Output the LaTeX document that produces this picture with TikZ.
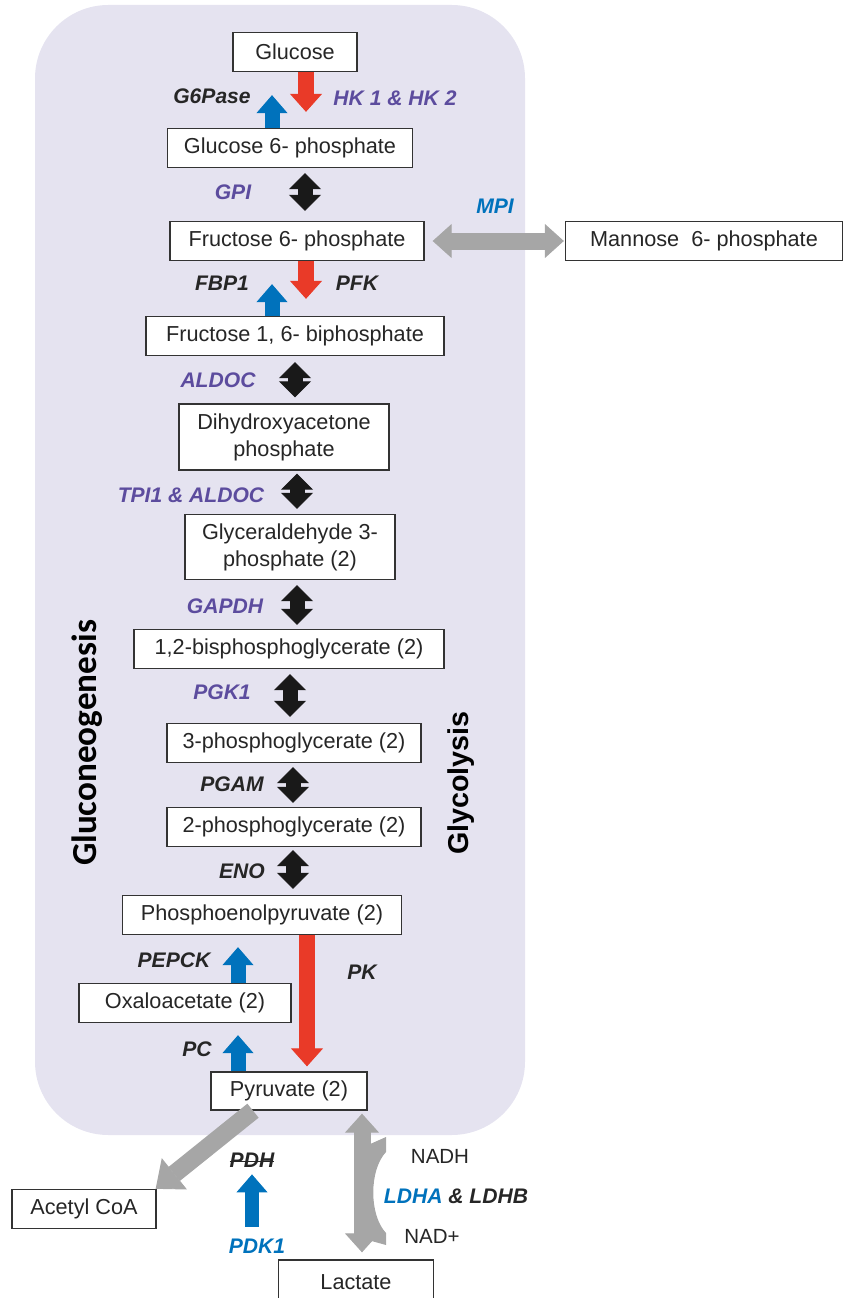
\documentclass[tikz,border=0pt]{standalone}
\usepackage{fontspec}
\setmainfont{Liberation Sans}
\newfontfamily\carlito{Carlito}
\usetikzlibrary{arrows.meta}
\definecolor{bgpath}{RGB}{229,227,240}
\definecolor{glyred}{RGB}{233,58,40}
\definecolor{gngblue}{RGB}{0,114,188}
\definecolor{enzpurple}{RGB}{92,76,158}
\definecolor{sidegray}{RGB}{166,166,166}
\newcommand{\struck}[1]{\setbox0\hbox{#1}\rlap{\raisebox{0.45ex}{\rule{\wd0}{0.7pt}}}\box0}

\begin{document}
\begin{tikzpicture}[x=0.3mm,y=-0.3mm,
  met/.style={draw=black!80,line width=0.4mm,fill=white,inner sep=0pt,minimum height=11.7mm,text=black!85,font=\fontsize{18.5}{23}\selectfont,align=center},
  enz/.style={text=black!85,font=\fontsize{18}{20}\selectfont\bfseries\itshape},
  cof/.style={text=black!85,font=\fontsize{17.5}{20}\selectfont},
  fwd/.style={draw=glyred,line width=4.8mm,-{Triangle[length=5.4mm,width=9.6mm,line width=0.8pt]}},
  rev/.style={draw=gngblue,line width=4.5mm,-{Triangle[length=5.4mm,width=9.3mm,line width=0.8pt]}},
  twoway/.style={draw=black!90,line width=4.5mm,{Triangle[length=4.8mm,width=9.6mm,line width=0.8pt]}-{Triangle[length=4.8mm,width=9.6mm,line width=0.8pt]}},
  grayway/.style={draw=sidegray,line width=5.1mm,{Triangle[length=5.7mm,width=10.2mm,line width=0.8pt]}-{Triangle[length=5.7mm,width=10.2mm,line width=0.8pt]}}]
\useasboundingbox (0,0) rectangle (844,1298);
\fill[bgpath,rounded corners=22mm] (35,5) rectangle (525,1135);

\node[met,minimum width=37.2mm] (glc) at (295,52) {Glucose};
\node[met,minimum width=73.5mm] (g6p) at (290,148) {Glucose 6- phosphate};
\node[met,minimum width=76.2mm] (f6p) at (297,241) {Fructose 6- phosphate};
\node[met,minimum width=83.1mm] (m6p) at (704,241) {Mannose\ \ 6- phosphate};
\node[met,minimum width=89.4mm] (f16bp) at (295,336) {Fructose 1, 6- biphosphate};
\node[met,minimum width=63mm,minimum height=19.8mm] (dhap) at (284,437) {Dihydroxyacetone\\phosphate};
\node[met,minimum width=63mm,minimum height=19.5mm] (g3p) at (290,547) {Glyceraldehyde 3-\\phosphate (2)};
\node[met,minimum width=93mm] (bpg) at (289,649) {1,2-bisphosphoglycerate (2)};
\node[met,minimum width=76.2mm] (pg3) at (294,743) {3-phosphoglycerate (2)};
\node[met,minimum width=76.2mm] (pg2) at (294,827) {2-phosphoglycerate (2)};
\node[met,minimum width=83.7mm] (pep) at (262,915) {Phosphoenolpyruvate (2)};
\node[met,minimum width=63.6mm] (oaa) at (185,1003) {Oxaloacetate (2)};
\node[met,minimum width=46.8mm,minimum height=11.4mm] (pyr) at (289,1091) {Pyruvate (2)};
\node[met,minimum width=43.2mm] (acoa) at (84,1209) {Acetyl CoA};
\node[met,minimum width=46.5mm,minimum height=13.2mm] (lac) at (356,1282) {Lactate};

\node[rotate=90,font=\carlito\bfseries\fontsize{30}{30}\selectfont] (gng) at (87,743) {Gluconeogenesis};
\node[rotate=90,font=\bfseries\fontsize{24.5}{25}\selectfont] (gly) at (461,783) {Glycolysis};

\node[enz] (g6pase) at (212,96) {G6Pase};
\node[enz,text=enzpurple] (hk) at (395,98) {HK 1 \& HK 2};
\node[enz,text=enzpurple] (gpi) at (233,192) {GPI};
\node[enz,text=gngblue] (mpi) at (495,206) {MPI};
\node[enz] (fbp) at (222,283) {FBP1};
\node[enz] (pfk) at (357,283) {PFK};
\node[enz,text=enzpurple] (aldoc) at (218,380) {ALDOC};
\node[enz,text=enzpurple] (tpi) at (191,495) {TPI1 \& ALDOC};
\node[enz,text=enzpurple] (gapdh) at (225,606) {GAPDH};
\node[enz,text=enzpurple] (pgk) at (222,692) {PGK1};
\node[enz] (pgam) at (232,784) {PGAM};
\node[enz] (eno) at (242,871) {ENO};
\node[enz] (pk) at (362,972) {PK};
\node[enz] (pepck) at (174,960) {PEPCK};
\node[enz] (pc) at (197,1049) {PC};
\node[enz] (pdh) at (252,1160) {\struck{PDH}};
\node[enz,text=gngblue] (pdk) at (257,1246) {PDK1};
\node[cof] (nadh) at (440,1156) {NADH};
\node[enz] (ldh) at (456,1196) {\textcolor{gngblue}{LDHA} \& LDHB};
\node[cof] (nad) at (432,1236) {NAD+};

\draw[fwd,shorten >=4.8mm] (glc.south -| 306,0) -- (g6p.north -| 306,0);
\draw[rev,shorten >=6.9mm] (g6p.north -| 272,0) -- (glc.south -| 272,0);
\draw[twoway,shorten <=1.5mm,shorten >=3mm] (g6p.south -| 305,0) -- (f6p.north -| 305,0);
\draw[grayway,shorten <=2.4mm,shorten >=0.3mm] (f6p.east) -- (m6p.west);
\draw[fwd,shorten >=5.1mm] (f6p.south -| 306,0) -- (f16bp.north -| 306,0);
\draw[rev,shorten >=6.9mm] (f16bp.north -| 272,0) -- (f6p.south -| 272,0);
\draw[twoway,shorten <=1.8mm,shorten >=1.8mm] (f16bp.south -| 295,0) -- (dhap.north -| 295,0);
\draw[twoway,shorten <=0.9mm,shorten >=1.5mm] (dhap.south -| 297,0) -- (g3p.north -| 297,0);
\draw[twoway,shorten <=1.5mm,shorten >=1.2mm] (g3p.south -| 297,0) -- (bpg.north -| 297,0);
\draw[twoway,shorten <=1.5mm,shorten >=1.8mm] (bpg.south -| 290,0) -- (pg3.north -| 290,0);
\draw[twoway,shorten <=1.2mm,shorten >=1.2mm] (pg3.south -| 293,0) -- (pg2.north -| 293,0);
\draw[twoway,shorten <=0.9mm,shorten >=1.8mm] (pg2.south -| 293,0) -- (pep.north -| 293,0);
\draw[fwd,shorten >=1.5mm] (pep.south -| 307,0) -- (pyr.north -| 307,0);
\draw[rev,shorten >=3.6mm] (oaa.north -| 238,0) -- (pep.south -| 238,0);
\draw[rev,shorten >=3.6mm] (pyr.north -| 238,0) -- (oaa.south -| 238,0);
\draw[draw=sidegray,line width=5.4mm,-{Triangle[length=7.2mm,width=12mm,line width=0.8pt]}] (pyr.south -| 253,0) -- ([xshift=-0.3mm]acoa.north east);
\draw[rev,line width=4.2mm,shorten <=2.4mm,shorten >=0.9mm] (pdk.north -| pdh.south) -- (pdh.south);
\draw[grayway,shorten <=0.9mm,shorten >=2.1mm] (pyr.south -| 362,0) -- (lac.north -| 362,0);
\fill[sidegray] (368,1145) -- (386,1137) -- (386,1152) .. controls (369,1170) and (369,1215) .. (386,1233) -- (386,1245) -- (368,1240) -- cycle;
\end{tikzpicture}
\end{document}
